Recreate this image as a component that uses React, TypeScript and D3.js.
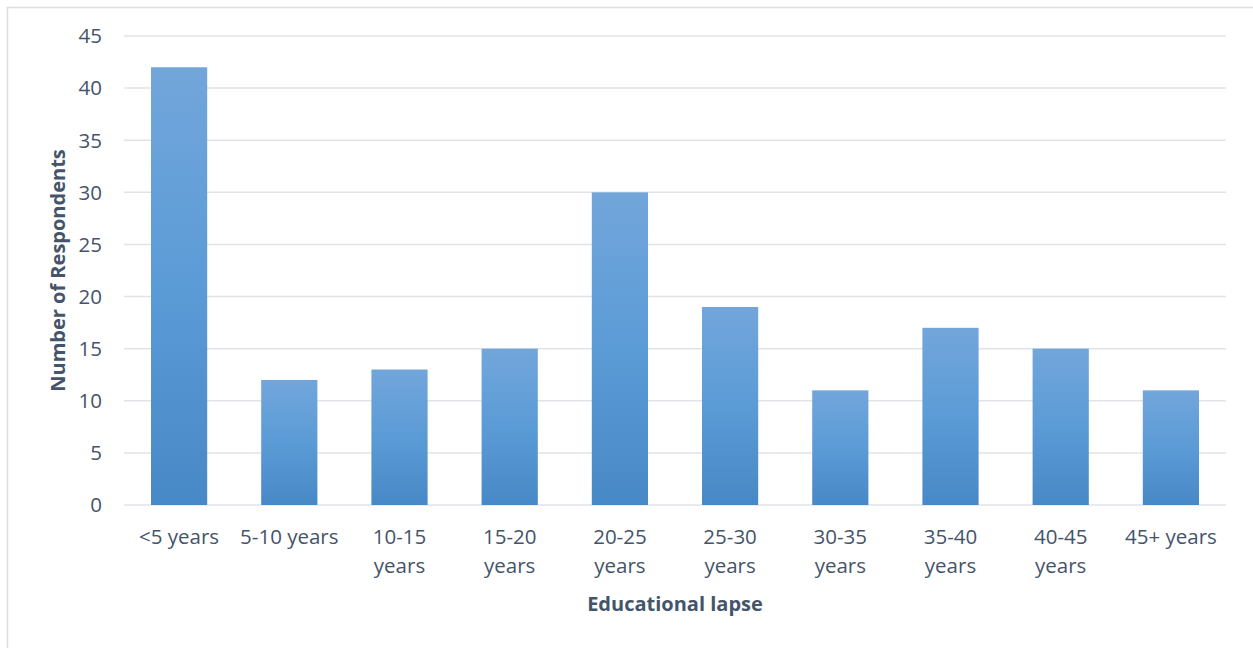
import React from "react";
import * as d3 from "d3";

const categories: string[][] = [
  ["<5 years"],
  ["5-10 years"],
  ["10-15", "years"],
  ["15-20", "years"],
  ["20-25", "years"],
  ["25-30", "years"],
  ["30-35", "years"],
  ["35-40", "years"],
  ["40-45", "years"],
  ["45+ years"],
];
const respondents: number[] = [42, 12, 13, 15, 30, 19, 11, 17, 15, 11];
const yTicks: number[] = [0, 5, 10, 15, 20, 25, 30, 35, 40, 45];

const W = 1253;
const H = 648;
const plot = { left: 124, right: 1226, top: 36, bottom: 505 };
const textColor = "#44546a";
const font = "'Open Sans', sans-serif";

export default function App() {
  const keys = categories.map((c) => c.join(" "));
  const x = d3
    .scaleBand<string>()
    .domain(keys)
    .range([plot.left, plot.right])
    .paddingInner(0.49)
    .paddingOuter(0.245);
  const y = d3.scaleLinear().domain([0, 45]).range([plot.bottom, plot.top]);

  return (
    <svg
      width={W}
      height={H}
      style={{ position: "absolute", left: 0, top: 0, background: "#fff" }}
      fontFamily={font}
    >
      <defs>
        <linearGradient id="barFill" x1="0" y1="0" x2="0" y2="1">
          <stop offset="0" stopColor="#72a6db" />
          <stop offset="0.5" stopColor="#5b9bd6" />
          <stop offset="1" stopColor="#4788c6" />
        </linearGradient>
      </defs>
      <rect x={7.5} y={7.5} width={W} height={H} fill="#fff" stroke="#dadde2" strokeWidth={1.5} />

      {yTicks.map((t) => (
        <g key={t}>
          <line
            x1={plot.left}
            x2={plot.right}
            y1={y(t)}
            y2={y(t)}
            stroke="#e1e3e8"
            strokeWidth={1.5}
          />
          <text
            x={102}
            y={y(t)}
            dy="0.36em"
            textAnchor="end"
            fontSize={20.5}
            fill={textColor}
          >
            {t}
          </text>
        </g>
      ))}

      {respondents.map((v, i) => (
        <rect
          key={keys[i]}
          x={x(keys[i])}
          y={y(v)}
          width={x.bandwidth()}
          height={y(0) - y(v)}
          fill="url(#barFill)"
        />
      ))}

      {categories.map((lines, i) => (
        <text
          key={keys[i]}
          x={(x(keys[i]) as number) + x.bandwidth() / 2}
          y={537}
          textAnchor="middle"
          fontSize={20.5}
          fill={textColor}
        >
          {lines.map((l, j) => (
            <tspan key={j} x={(x(keys[i]) as number) + x.bandwidth() / 2} dy={j === 0 ? "0.36em" : 29}>
              {l}
            </tspan>
          ))}
        </text>
      ))}

      <text
        x={(plot.left + plot.right) / 2}
        y={604}
        dy="0.35em"
        textAnchor="middle"
        fontSize={20}
        fontWeight="bold"
        fill={textColor}
      >
        Educational lapse
      </text>
      <text
        transform={`translate(58, ${(plot.top + plot.bottom) / 2}) rotate(-90)`}
        dy="0.35em"
        textAnchor="middle"
        fontSize={20}
        fontWeight="bold"
        fill={textColor}
      >
        Number of Respondents
      </text>
    </svg>
  );
}
